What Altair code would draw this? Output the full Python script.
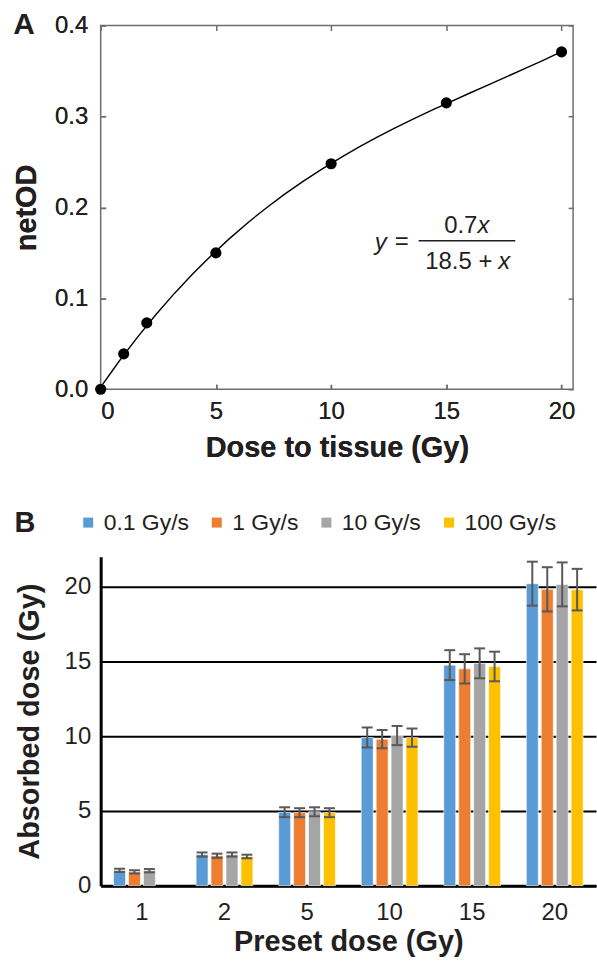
import altair as alt
import pandas as pd

FONT = "Liberation Sans"
TXT = "#231f20"
FRAME = "#6d6d6d"

# ---------------- Panel A data ----------------
dose_tissue = [0, 1, 2, 5, 10, 15, 20]
net_od = [0.0, 0.039, 0.073, 0.150, 0.248, 0.315, 0.371]
xa_ticks = [0, 5, 10, 15, 20]
ya_ticks = [0.0, 0.1, 0.2, 0.3, 0.4]

# ---------------- Panel B data ----------------
preset = ["1", "2", "5", "10", "15", "20"]
rates = ["0.1 Gy/s", "1 Gy/s", "10 Gy/s", "100 Gy/s"]
colors = ["#5B9BD5", "#ED7D31", "#A5A5A5", "#FFC000"]
abs_01 = [1.02, 2.08, 4.91, 9.91, 14.75, 20.20]
abs_1 = [0.92, 2.00, 4.88, 9.80, 14.50, 19.82]
abs_10 = [1.00, 2.08, 4.94, 10.04, 14.87, 20.15]
abs_100 = [None, 1.95, 4.88, 9.90, 14.66, 19.80]
err_01 = [0.11, 0.14, 0.33, 0.67, 1.00, 1.47]
err_1 = [0.11, 0.14, 0.30, 0.61, 0.98, 1.48]
err_10 = [0.11, 0.14, 0.30, 0.64, 1.00, 1.47]
err_100 = [None, 0.12, 0.30, 0.61, 0.99, 1.39]
yb_ticks = [0, 5, 10, 15, 20]

dfA = pd.DataFrame({"dose": dose_tissue, "netod": net_od})

rows = []
for rate, vals, errs in zip(rates, [abs_01, abs_1, abs_10, abs_100],
                            [err_01, err_1, err_10, err_100]):
    for p, v, e in zip(preset, vals, errs):
        if v is not None:
            rows.append({"preset": p, "rate": rate, "value": v, "err": e})
dfB = pd.DataFrame(rows)

# ---------------- Panel A ----------------
xs = alt.Scale(domain=[0, 20.5], nice=False, zero=False)
ys = alt.Scale(domain=[0, 0.4], nice=False)

x_bottom = alt.X("dose:Q", scale=xs, axis=alt.Axis(
    orient="bottom", values=xa_ticks, format="d", domain=False, grid=False,
    ticks=True, tickSize=5, tickWidth=1.5, tickColor=FRAME, offset=-5,
    labelPadding=10, labelFontSize=24, title="Dose to tissue (Gy)",
    titleFontSize=29, titleFontWeight="bold", titlePadding=10))
y_left = alt.Y("netod:Q", scale=ys, axis=alt.Axis(
    orient="left", values=ya_ticks, format=".1f", domain=False, grid=False,
    ticks=True, tickSize=5, tickWidth=1.5, tickColor=FRAME, offset=-5,
    labelPadding=13, labelFontSize=24, title="netOD",
    titleFontSize=29, titleFontWeight="bold", titlePadding=13))
x_top = alt.X("dose:Q", scale=xs, axis=alt.Axis(
    orient="top", values=xa_ticks, domain=False, grid=False, labels=False,
    ticks=True, tickSize=5, tickWidth=1.5, tickColor=FRAME, offset=-5, title=None))
y_right = alt.Y("netod:Q", scale=ys, axis=alt.Axis(
    orient="right", values=ya_ticks, domain=False, grid=False, labels=False,
    ticks=True, tickSize=5, tickWidth=1.5, tickColor=FRAME, offset=-5, title=None))

baseA = alt.Chart(dfA)
curve = baseA.transform_regression(
    "dose", "netod", method="poly", order=3, extent=[0, 20]
).mark_line(color="black", strokeWidth=1.4).encode(x=x_bottom, y=y_left)
pts = baseA.mark_circle(size=125, color="black", opacity=1).encode(x=x_bottom, y=y_left)
frame_axes = baseA.mark_circle(opacity=0).encode(x=x_top, y=y_right)

one = pd.DataFrame({"k": [0]})
def label(text, x, y, size=24, align="center", style="normal", weight="normal"):
    return alt.Chart(one).mark_text(
        text=text, fontSize=size, align=align, baseline="middle",
        fontStyle=style, fontWeight=weight, color=TXT
    ).encode(x=alt.value(x), y=alt.value(y))

eq = [
    label("0.7", 378, 201, align="right"),
    label("x", 378, 201, align="left", style="italic"),
    alt.Chart(one).mark_rule(color=TXT, strokeWidth=1.6).encode(
        x=alt.value(319), x2=alt.value(416), y=alt.value(216)),
    label("18.5 +", 393, 237, align="right"),
    label("x", 399, 237, align="left", style="italic"),
    label("y", 287, 218, align="right", style="italic"),
    label("=", 302, 217),
    label("A", -77, 0, size=30, weight="bold"),
]

panelA = alt.layer(curve, pts, frame_axes, *eq).resolve_axis(
    x="independent", y="independent"
).properties(width=474, height=365,
             view=alt.ViewBackground(stroke=FRAME, strokeWidth=1.5))

# ---------------- Panel B ----------------
xb = alt.X("preset:O", sort=preset,
           scale=alt.Scale(paddingInner=0.276, paddingOuter=0.138),
           axis=alt.Axis(labelAngle=0, domainColor="black", domainWidth=3,
                         ticks=False, labelFontSize=24, labelPadding=15,
                         title="Preset dose (Gy)", titleFontSize=29,
                         titleFontWeight="bold", titlePadding=3))
xo = alt.XOffset("rate:N", sort=rates,
                 scale=alt.Scale(domain=rates, paddingInner=0.2, paddingOuter=0.1))
yb = alt.Y("value:Q", scale=alt.Scale(domain=[0, 22], nice=False),
           axis=alt.Axis(values=yb_ticks, grid=True, gridColor="black",
                         gridWidth=2, domainColor="black", domainWidth=3,
                         ticks=False, labelFontSize=24, labelPadding=10,
                         title="Absorbed dose (Gy)", titleFontSize=29,
                         titleFontWeight="bold", titlePadding=20))

baseB = alt.Chart(dfB)
bars = baseB.mark_bar(stroke="white", strokeWidth=0.6).encode(
    x=xb, xOffset=xo, y=yb,
    color=alt.Color("rate:N", sort=rates,
                    scale=alt.Scale(domain=rates, range=colors),
                    legend=alt.Legend(orient="none", legendX=-24, legendY=-46,
                                      direction="horizontal", title=None,
                                      symbolType="square", symbolSize=100,
                                      symbolStrokeWidth=0, labelFontSize=23,
                                      labelColor=TXT, labelOffset=4,
                                      columnPadding=16)))
errB = baseB.transform_calculate(
    lo="datum.value - datum.err", hi="datum.value + datum.err")
rules = errB.mark_rule(color="#595959", strokeWidth=2).encode(
    x=xb, xOffset=xo, y="lo:Q", y2="hi:Q")
cap_lo = errB.mark_tick(color="#595959", thickness=2, size=11, opacity=1).encode(
    x=xb, xOffset=xo, y="lo:Q")
cap_hi = errB.mark_tick(color="#595959", thickness=2, size=11, opacity=1).encode(
    x=xb, xOffset=xo, y="hi:Q")
labB = label("B", -76, -34, size=29, weight="bold")

panelB = alt.layer(bars, rules, cap_lo, cap_hi, labB).properties(width=497, height=330)

chart = alt.vconcat(panelA, panelB, spacing=45).resolve_legend(
    color="independent"
).properties(
    padding={"left": 11, "top": 8, "right": 0, "bottom": 0}
).configure(font=FONT).configure_view(stroke="transparent").configure_axis(
    labelColor=TXT, titleColor=TXT, labelFont=FONT, titleFont=FONT
).configure_text(font=FONT).configure_legend(labelFont=FONT)

chart.save("out.html", embed_options={"renderer": "svg", "actions": False})
